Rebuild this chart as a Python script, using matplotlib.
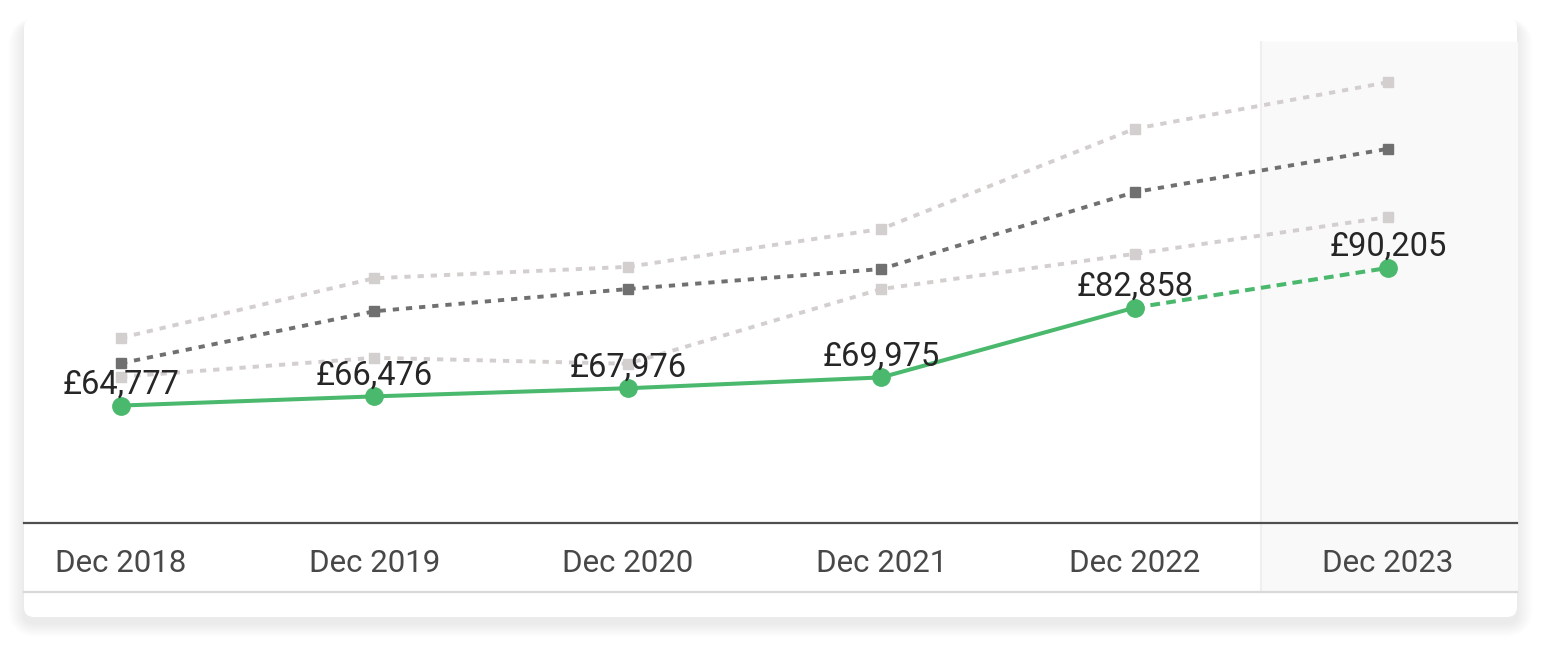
import numpy as np
import matplotlib
matplotlib.use("Agg")
import matplotlib.pyplot as plt
from matplotlib.patches import FancyBboxPatch

# ======================== data
periods = ["Dec 2018", "Dec 2019", "Dec 2020", "Dec 2021", "Dec 2022", "Dec 2023"]
salary = [64777, 66476, 67976, 69975, 82858, 90205]
upper_band = [77300, 88300, 90400, 97400, 115900, 124500]
median_band = [72600, 82200, 86300, 90000, 104200, 112200]
lower_band = [70100, 73600, 72500, 86300, 92800, 99600]

plt.rcParams["font.family"] = ["Roboto", "DejaVu Sans"]
plt.rcParams["lines.scale_dashes"] = False

W, H = 1542, 648
fig = plt.figure(figsize=(W / 100, H / 100), dpi=100)
fig.patch.set_facecolor("white")

# ======================== card background with soft shadow (pixel coords)
bg = fig.add_axes([0, 0, 1, 1], zorder=0)
bg.set_xlim(0, W)
bg.set_ylim(H, 0)
bg.axis("off")
for i in range(20, 0, -1):
    sh = FancyBboxPatch((24 - i * 0.8, 18 - i * 0.3 + 6), 1493 + i * 1.6, 599 + i * 1.0,
                        boxstyle="round,pad=0,rounding_size=%d" % (10 + i),
                        fc="black", ec="none", alpha=0.0035)
    bg.add_patch(sh)
card = FancyBboxPatch((24, 18), 1493, 599, boxstyle="round,pad=0,rounding_size=10",
                      fc="white", ec="none")
bg.add_patch(card)

# ======================== main chart
ax = fig.add_axes([24 / W, 1 - 523 / H, 1493 / W, 481 / H], zorder=1)
ax.patch.set_alpha(0)
x = np.arange(len(periods))
ax.set_xlim(-0.383, 5.509)
ax.set_ylim(43087, 131929)

band_bottom = -69 / 481
ax.axvspan(4.5, 5.509, ymin=band_bottom, ymax=1, color="#f9f9f9", zorder=0, clip_on=False)
ax.axvline(4.5, ymin=band_bottom, ymax=1, color="#efefef", lw=1.5, zorder=0.5, clip_on=False)
ax.plot([0, 1], [band_bottom, band_bottom], transform=ax.transAxes, color="#d9d9d9",
        lw=1.6, clip_on=False, zorder=1)

light = "#d3cfce"
dark = "#707070"
ax.plot(x, upper_band, color=light, lw=2.8, dashes=(4.5, 5), marker="s", ms=6.5, zorder=2)
ax.plot(x, lower_band, color=light, lw=2.8, dashes=(4.5, 5), marker="s", ms=6.5, zorder=2)
ax.plot(x, median_band, color=dark, lw=2.8, dashes=(4.5, 5), marker="s", ms=6.5, zorder=3)

green = "#4ab96d"
ax.plot(x[:5], salary[:5], color=green, lw=2.9, zorder=4)
ax.plot(x[4:], salary[4:], color=green, lw=2.9, dashes=(7, 4.5), zorder=4)
ax.plot(x, salary, ls="none", marker="o", ms=12.5, color=green, zorder=5)

for xi, v in zip(x, salary):
    ax.annotate("£{:,}".format(v), (xi, v), xytext=(0, 8.5), textcoords="offset points",
                ha="center", va="baseline", fontsize=23.5, color="#262626", zorder=6)

ax.set_xticks(x)
ax.set_xticklabels(periods, fontsize=22.5, color="#484848")
ax.tick_params(axis="x", length=0, pad=19)
ax.set_yticks([])
for s in ["top", "left", "right"]:
    ax.spines[s].set_visible(False)
ax.spines["bottom"].set_color("#4f4f4f")
ax.spines["bottom"].set_linewidth(1.6)

fig.savefig("out.png", dpi=100)
